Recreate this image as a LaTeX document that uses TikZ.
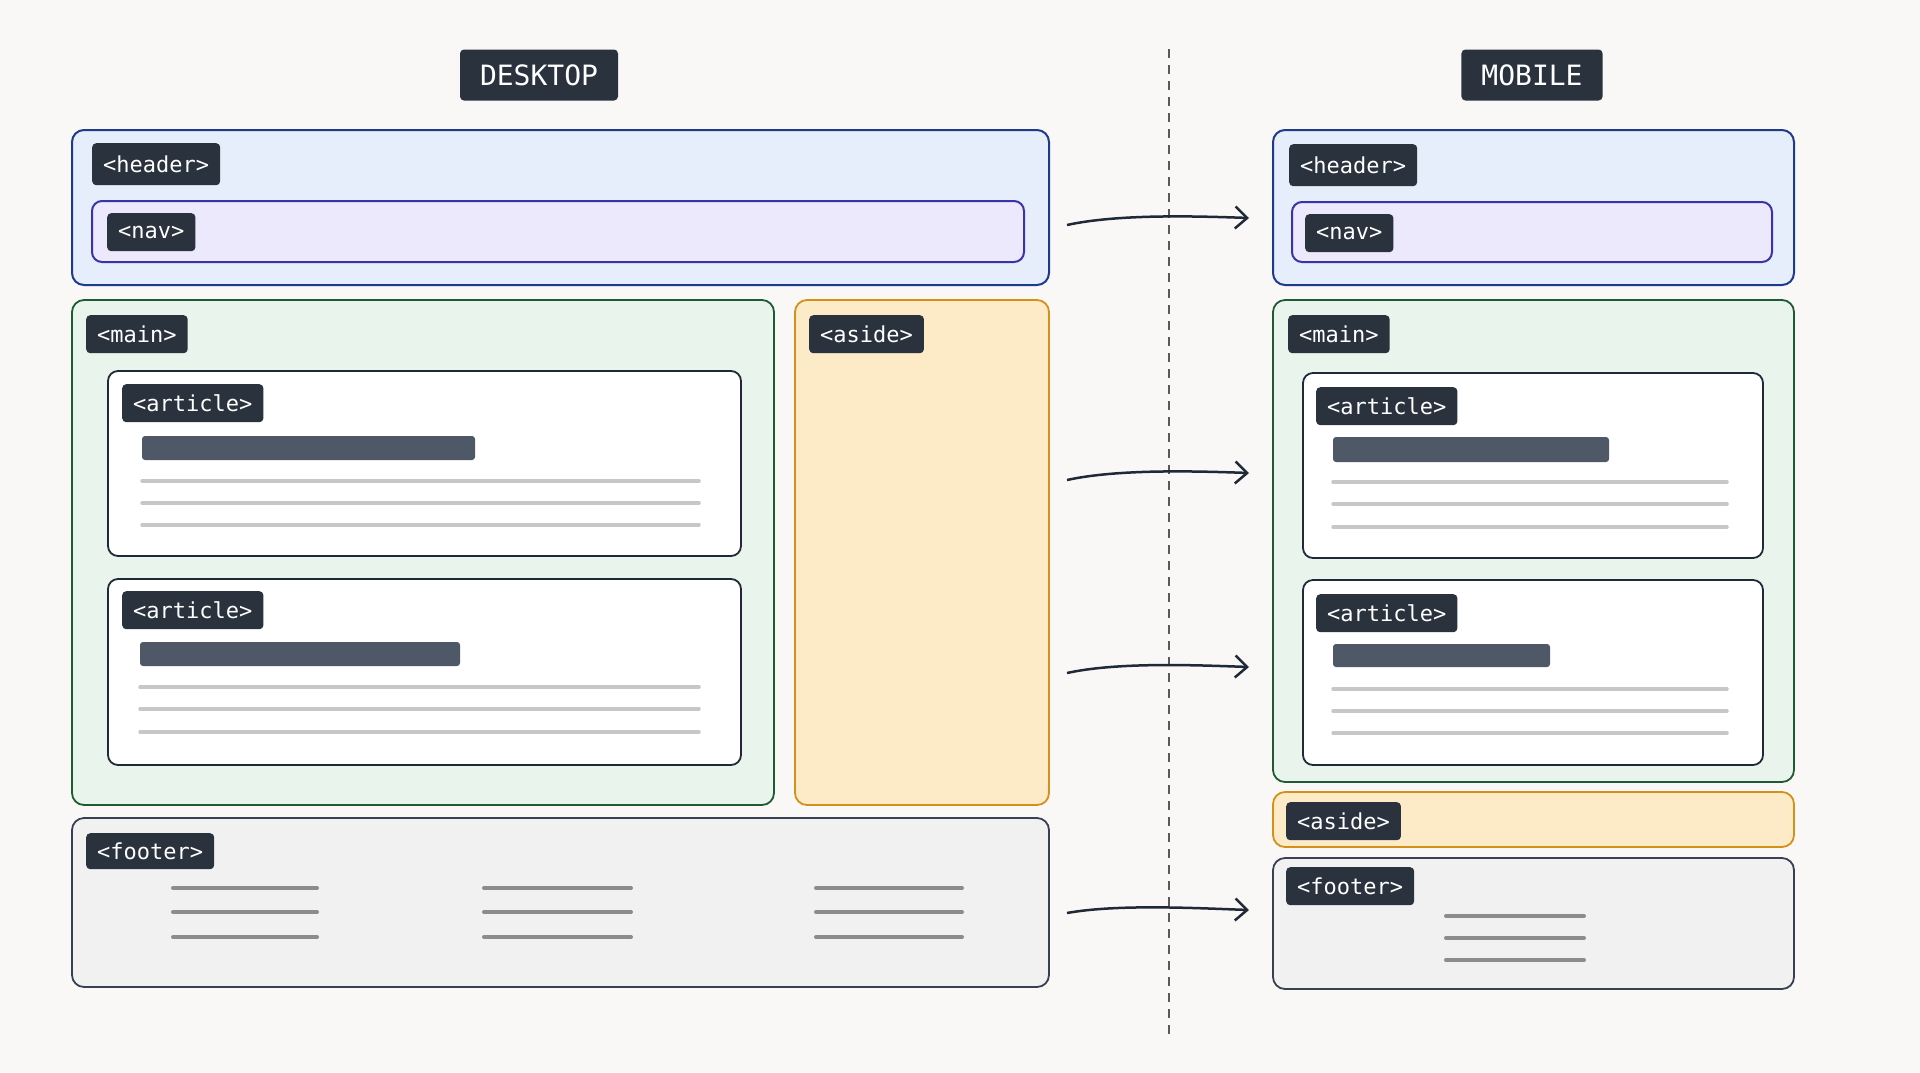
\documentclass[tikz,border=0pt]{standalone}
\usepackage{fontspec}
\setmonofont{DejaVu Sans Mono}
\usetikzlibrary{arrows.meta}

\definecolor{bg}{HTML}{F9F8F6}
\definecolor{tagdark}{HTML}{29323D}
\definecolor{hdrfill}{HTML}{E6EEFB}
\definecolor{hdrline}{HTML}{1E3A8A}
\definecolor{navfill}{HTML}{EBE9FB}
\definecolor{navline}{HTML}{3B32A8}
\definecolor{mainfill}{HTML}{E9F4EC}
\definecolor{mainline}{HTML}{1F5A32}
\definecolor{asidefill}{HTML}{FDEBC8}
\definecolor{asideline}{HTML}{D4911A}
\definecolor{footfill}{HTML}{F1F1F1}
\definecolor{footline}{HTML}{374151}
\definecolor{artline}{HTML}{1F2937}
\definecolor{barfill}{HTML}{4E5867}

\tikzset{
  tagbox/.style={fill=tagdark, text=white, rounded corners=4pt, anchor=north west,
    inner xsep=11pt, inner ysep=0pt, minimum height=38pt,
    font=\ttfamily\fontsize{22}{25}\selectfont},
  viewtag/.style={tagbox, anchor=center, inner xsep=20pt, minimum height=51pt,
    font=\ttfamily\fontsize{28}{31}\selectfont},
  hdrbox/.style={draw=hdrline, fill=hdrfill, line width=2pt, rounded corners=12pt},
  navbox/.style={draw=navline, fill=navfill, line width=2pt, rounded corners=10pt},
  mainbox/.style={draw=mainline, fill=mainfill, line width=1.8pt, rounded corners=12pt},
  artbox/.style={draw=artline, fill=white, line width=1.8pt, rounded corners=10pt},
  asidebox/.style={draw=asideline, fill=asidefill, line width=1.8pt, rounded corners=12pt},
  footbox/.style={draw=footline, fill=footfill, line width=1.8pt, rounded corners=12pt},
  titlebar/.style={fill=barfill, rounded corners=3pt},
  txtline/.style={draw=black!22, line width=3.5pt, line cap=round},
  footrule/.style={draw=black!45, line width=4pt, line cap=round},
  flow/.style={draw=artline, line width=2.5pt, -{Straight Barb[length=12pt,width=22pt,line width=2.5pt]}}
}

\begin{document}
\begin{tikzpicture}[x=1pt, y=-1pt]
  \fill[bg] (0,0) rectangle (1920,1072);
  \useasboundingbox (0,0) rectangle (1920,1072);
  % views
  \node[viewtag] (desk) at (539,75) {DESKTOP};
  \node[viewtag] (mobi) at (1532,75) {MOBILE};
  \coordinate (divtop) at (1169,49);
  \coordinate (divbot) at (1169,1038);
  \draw[black!65, line width=1.5pt, dash pattern=on 9pt off 7pt] (divtop) -- (divbot);

  % desktop header
  \draw[hdrbox] (72,130) rectangle (1049,285);
  \node[tagbox, minimum height=42pt] (dheader) at (92,143) {<header>};
  \draw[navbox] (92,201) rectangle (1024,262);
  \node[tagbox] (dnav) at (107,213) {<nav>};
  % desktop main
  \draw[mainbox] (72,300) rectangle (774,805);
  \node[tagbox] (dmain) at (86,315) {<main>};
  \draw[artbox] (108,371) rectangle (741,556);
  \node[tagbox] (dart1) at (122,384) {<article>};
  \fill[titlebar] (142,436) rectangle (475,460);
  \draw[txtline] (142,481) -- (699,481) (142,503) -- (699,503) (142,525) -- (699,525);
  \draw[artbox] (108,579) rectangle (741,765);
  \node[tagbox] (dart2) at (122,591) {<article>};
  \fill[titlebar] (140,642) rectangle (460,666);
  \draw[txtline] (140,687) -- (699,687) (140,709) -- (699,709) (140,732) -- (699,732);
  % desktop aside
  \draw[asidebox] (795,300) rectangle (1049,805);
  \node[tagbox] (daside) at (809,315) {<aside>};
  % desktop footer
  \draw[footbox] (72,818) rectangle (1049,987);
  \node[tagbox, minimum height=36pt] (dfooter) at (86,833) {<footer>};
  \draw[footrule] (173,888) -- (317,888) (173,912) -- (317,912) (173,937) -- (317,937);
  \draw[footrule] (484,888) -- (631,888) (484,912) -- (631,912) (484,937) -- (631,937);
  \draw[footrule] (816,888) -- (962,888) (816,912) -- (962,912) (816,937) -- (962,937);

  % mobile header
  \draw[hdrbox] (1273,130) rectangle (1794,285);
  \node[tagbox, minimum height=42pt] (mheader) at (1289,144) {<header>};
  \draw[navbox] (1292,202) rectangle (1772,262);
  \node[tagbox] (mnav) at (1305,214) {<nav>};
  % mobile main
  \draw[mainbox] (1273,300) rectangle (1794,782);
  \node[tagbox] (mmain) at (1288,315) {<main>};
  \draw[artbox] (1303,373) rectangle (1763,558);
  \node[tagbox] (mart1) at (1316,387) {<article>};
  \fill[titlebar] (1333,437) rectangle (1609,462);
  \draw[txtline] (1333,482) -- (1727,482) (1333,504) -- (1727,504) (1333,527) -- (1727,527);
  \draw[artbox] (1303,580) rectangle (1763,765);
  \node[tagbox] (mart2) at (1316,594) {<article>};
  \fill[titlebar] (1333,644) rectangle (1550,667);
  \draw[txtline] (1333,689) -- (1727,689) (1333,711) -- (1727,711) (1333,733) -- (1727,733);
  % mobile aside
  \draw[asidebox] (1273,792) rectangle (1794,847);
  \node[tagbox] (maside) at (1286,802) {<aside>};
  % mobile footer
  \draw[footbox] (1273,858) rectangle (1794,989);
  \node[tagbox] (mfooter) at (1286,867) {<footer>};
  \draw[footrule] (1446,916) -- (1584,916) (1446,938) -- (1584,938) (1446,960) -- (1584,960);

  % arrows
  \coordinate (d1) at (1067,225); \coordinate (m1) at (1249,218);
  \coordinate (d2) at (1067,480); \coordinate (m2) at (1249,473);
  \coordinate (d3) at (1067,673); \coordinate (m3) at (1249,667);
  \coordinate (d4) at (1067,913); \coordinate (m4) at (1249,910);
  \draw[flow] (d1) .. controls +(50,-11) and +(-55,-2) .. (m1);
  \draw[flow] (d2) .. controls +(50,-11) and +(-55,-2) .. (m2);
  \draw[flow] (d3) .. controls +(50,-11) and +(-55,-2) .. (m3);
  \draw[flow] (d4) .. controls +(50,-9) and +(-55,-2) .. (m4);
\end{tikzpicture}
\end{document}
